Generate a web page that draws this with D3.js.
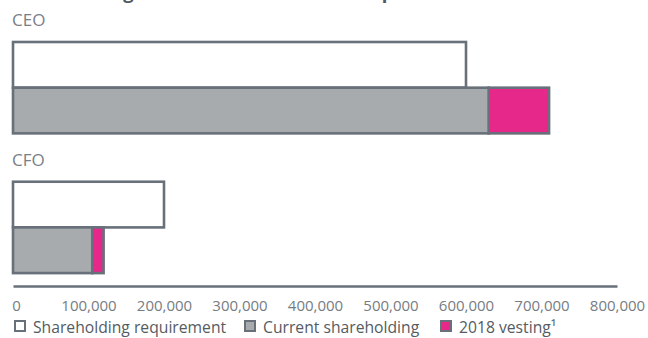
<!DOCTYPE html>
<html>
<head>
<meta charset="utf-8">
<script src="https://cdn.jsdelivr.net/npm/d3@7"></script>
<style>
  body { margin: 0; background: #fff; }
  svg { display: block; font-family: "Open Sans", sans-serif; }
</style>
</head>
<body>
<div id="chart"></div>
<script>
var executives = ["CEO", "CFO"];
var requirement = [600000, 200000];
var currentHolding = [630000, 105000];
var vesting2018 = [80000, 15000];
var tickValues = [0, 100000, 200000, 300000, 400000, 500000, 600000, 700000, 800000];
var legendLabels = ["Shareholding requirement", "Current shareholding", "2018 vesting\u00b9"];

var width = 648, height = 338;
var strokeCol = "#68707a";
var grayFill = "#a7abae";
var pink = "#e6288a";

var svg = d3.select("#chart").append("svg")
    .attr("width", width)
    .attr("height", height);

// title, mostly cut off at the top edge like in the original
svg.append("text")
    .attr("x", 13)
    .attr("y", -1)
    .attr("font-size", 18.3)
    .attr("font-weight", "bold")
    .attr("fill", "#50575e")
    .text("Shareholding of Executive Directors compared to the minimum");

var x = d3.scaleLinear()
    .domain([0, 800000])
    .range([13, 617]);

var yGroup = d3.scaleBand()
    .domain(executives)
    .range([42, 273.1])
    .paddingInner(0.346);

var yRow = d3.scaleBand()
    .domain(["req", "cur"])
    .range([0, yGroup.bandwidth()]);

var groups = svg.selectAll("g.exec")
    .data(executives)
    .enter().append("g")
    .attr("class", "exec")
    .attr("transform", function (d) { return "translate(0," + yGroup(d) + ")"; });

groups.append("text")
    .attr("x", 12)
    .attr("y", -16)
    .attr("font-size", 17)
    .attr("fill", "#7a8086")
    .text(function (d) { return d; });

groups.append("rect")
    .attr("x", x(0))
    .attr("y", yRow("req"))
    .attr("width", function (d, i) { return x(requirement[i]) - x(0); })
    .attr("height", yRow.bandwidth())
    .attr("fill", "#fff")
    .attr("stroke", strokeCol)
    .attr("stroke-width", 2.6);

groups.append("rect")
    .attr("x", function (d, i) { return x(currentHolding[i]); })
    .attr("y", yRow("cur"))
    .attr("width", function (d, i) { return x(currentHolding[i] + vesting2018[i]) - x(currentHolding[i]); })
    .attr("height", yRow.bandwidth())
    .attr("fill", pink)
    .attr("stroke", strokeCol)
    .attr("stroke-width", 2.6);

groups.append("rect")
    .attr("x", x(0))
    .attr("y", yRow("cur"))
    .attr("width", function (d, i) { return x(currentHolding[i]) - x(0); })
    .attr("height", yRow.bandwidth())
    .attr("fill", grayFill)
    .attr("stroke", strokeCol)
    .attr("stroke-width", 2.6);

var xAxis = d3.axisBottom(x)
    .tickValues(tickValues)
    .tickSize(0)
    .tickSizeOuter(0)
    .tickPadding(14)
    .tickFormat(d3.format(","));

var axisG = svg.append("g")
    .attr("transform", "translate(0,286)")
    .call(xAxis);
axisG.select(".domain")
    .attr("stroke", strokeCol)
    .attr("stroke-width", 2.5);
axisG.selectAll("text")
    .attr("font-size", 15)
    .attr("font-family", "Open Sans, sans-serif")
    .attr("fill", "#767c82");
axisG.select(".tick text").attr("dx", 3);

// legend
var legendX = [14, 244, 440];
var legendFill = ["#fff", grayFill, pink];
var legend = svg.selectAll("g.legend")
    .data(legendLabels)
    .enter().append("g")
    .attr("class", "legend")
    .attr("transform", function (d, i) { return "translate(" + legendX[i] + ",320)"; });

legend.append("rect")
    .attr("x", 1)
    .attr("y", 1)
    .attr("width", 10)
    .attr("height", 10)
    .attr("fill", function (d, i) { return legendFill[i]; })
    .attr("stroke", strokeCol)
    .attr("stroke-width", 2);

legend.append("text")
    .attr("x", 19)
    .attr("y", 13)
    .attr("font-size", 15.7)
    .attr("fill", "#555b62")
    .text(function (d) { return d; });
</script>
</body>
</html>
